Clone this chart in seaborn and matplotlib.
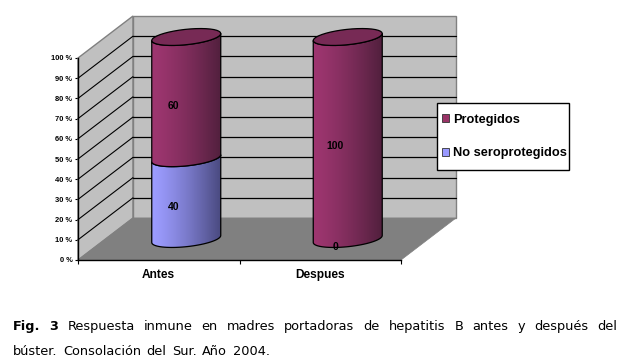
import numpy as np
import pandas as pd
import matplotlib
matplotlib.use("Agg")
import matplotlib.pyplot as plt
from matplotlib.patches import Patch, Polygon, Rectangle
from matplotlib.colors import LinearSegmentedColormap
import seaborn as sns

# data
categories = ["Antes", "Despues"]
no_seroprotegidos = [40, 0]
protegidos = [60, 100]
y_ticks = [0, 10, 20, 30, 40, 50, 60, 70, 80, 90, 100]
y_tick_labels = [f"{v} %" for v in y_ticks]

sns.set_style("white")
plt.rcParams["font.family"] = ["Liberation Sans", "DejaVu Sans"]
plt.rcParams["text.color"] = "black"
plt.rcParams["xtick.labelcolor"] = "black"
plt.rcParams["ytick.labelcolor"] = "black"

W, H = 623, 361
fig = plt.figure(figsize=(W / 100, H / 100), dpi=100, facecolor="white")
# the axes is the front plane of the 3D box, all depth is an offset from it
L, R, T, B = 78, 401, 58, 260
ax = fig.add_axes([L / W, 1 - B / H, (R - L) / W, (B - T) / H])

df = pd.DataFrame({"cat": categories, "low": no_seroprotegidos, "high": protegidos})
df["top"] = df["low"] + df["high"]

PX = 2 / (R - L)      # data units per pixel
PY = 100 / (B - T)
dx, dy = 55 * PX, 42 * PY
x0, x1 = -0.5, 1.5

sns.barplot(df, x="cat", y="top", color="#993366", width=69 * PX, ax=ax)
n_top = len(ax.patches)
sns.barplot(df, x="cat", y="low", color="#9999FF", width=69 * PX, ax=ax)
top_bars = ax.patches[:n_top]
low_bars = ax.patches[n_top:]
for p in ax.patches:
    p.set_visible(False)

ax.set_xlim(x0, x1)
ax.set_ylim(0, 100)

# walls and floor
wall = "#C0C0C0"
edge = "#808080"
ax.add_patch(Polygon([(x0, 0), (x0, 100), (x0 + dx, 100 + dy), (x0 + dx, dy)],
                     fc=wall, ec=edge, lw=1, zorder=1, clip_on=False))
ax.add_patch(Polygon([(x0 + dx, dy), (x0 + dx, 100 + dy), (x1 + dx, 100 + dy), (x1 + dx, dy)],
                     fc=wall, ec=edge, lw=1, zorder=1, clip_on=False))
ax.add_patch(Polygon([(x0, 0), (x1, 0), (x1 + dx, dy), (x0 + dx, dy)],
                     fc="#808080", ec="#808080", lw=0.5, zorder=1.5, clip_on=False))
for v in y_ticks[1:-1]:
    ax.plot([x0, x0 + dx], [v, v + dy], color="black", lw=0.8, zorder=2, clip_on=False)
    ax.plot([x0 + dx, x1 + dx], [v + dy, v + dy], color="black", lw=0.9, zorder=2, clip_on=False)


def arc(cx, cy, a, start, stop):
    # tilted ellipse of the cylinder ends
    t = np.radians(np.linspace(start, stop, 40))
    xs = cx + a * np.cos(t)
    ys = cy + 7.7 * PY * np.sin(t) + 3.5 * PY * np.cos(t)
    return np.column_stack([xs, ys])


def grad_fill(path, xa, xb, c1, c2, z):
    cm = LinearSegmentedColormap.from_list("g", [c1, c2])
    poly = Polygon(path, fc="none", ec="black", lw=0.9, zorder=z + 0.1, clip_on=False)
    ax.add_patch(poly)
    ys = path[:, 1]
    im = ax.imshow(np.linspace(0, 1, 64).reshape(1, -1) ** 1.3, cmap=cm, aspect="auto", zorder=z,
                   extent=(xa, xb, ys.min(), ys.max()))
    # gradient pokes out of the axes box at the top
    im.set_clip_box(fig.bbox)
    im.set_clip_path(poly)


def cylinder(bar, bottom, c1, c2, z):
    xa = bar.get_x() + 0.5 * dx
    a = bar.get_width() / 2
    cx = xa + a
    lo = bottom + 0.5 * dy
    hi = bar.get_height() + 0.5 * dy
    # front half of the lower end, then back along the upper end
    path = np.vstack([arc(cx, lo, a, 180, 360), arc(cx, hi, a, 360, 180)])
    grad_fill(path, xa, xa + 2 * a, c1, c2, z)
    return cx, a, hi


for i in range(len(categories)):
    if no_seroprotegidos[i] > 0:
        cylinder(low_bars[i], 0, "#9C9CFF", "#4A4A80", 3)
    cx, a, hi = cylinder(top_bars[i], no_seroprotegidos[i], "#9E3670", "#52203E", 4)
    ax.add_patch(Polygon(arc(cx, hi, a, 0, 360), fc="#772A55", ec="black", lw=0.9,
                         zorder=5, clip_on=False))
ax.set_xlim(x0, x1)
ax.set_ylim(0, 100)

# value labels
lx, ly = -12.5 * PX + 0.5 * dx, -8 * PY + 0.5 * dy
for i in range(len(categories)):
    ax.text(i + lx, no_seroprotegidos[i] / 2 + ly, str(no_seroprotegidos[i]), ha="center", va="center",
            fontsize=7.5, fontweight="bold", color="black", zorder=6, clip_on=False)
    ax.text(i + lx, no_seroprotegidos[i] + protegidos[i] / 2 + ly, str(protegidos[i]), ha="center", va="center",
            fontsize=7.5, fontweight="bold", color="black", zorder=6, clip_on=False)

# axes
for s in ["top", "right"]:
    ax.spines[s].set_visible(False)
for s in ["left", "bottom"]:
    ax.spines[s].set_color("black")
    ax.spines[s].set_linewidth(1)
    ax.spines[s].set_zorder(7)
ax.set_xlabel("")
ax.set_ylabel("")
ax.set_yticks(y_ticks, y_tick_labels)
ax.tick_params(axis="y", length=2.5, width=0.8, color="black", left=True, pad=1.5, labelsize=5.4,
               labelcolor="black")
for lab in ax.get_yticklabels():
    lab.set_fontweight("bold")
ax.set_xticks([x0, 0.5, x1], ["", "", ""])
ax.set_xticks([0, 1], categories, minor=True)
ax.tick_params(axis="x", which="major", length=3, width=0.8, color="black", bottom=True)
ax.tick_params(axis="x", which="minor", length=0, pad=6.5, labelsize=8.6, labelcolor="black")
for lab in ax.get_xticklabels(minor=True):
    lab.set_fontweight("bold")

# legend, frame drawn apart because its padding differs in x and y
fig.add_artist(Rectangle((437 / W, 1 - 170 / H), 132 / W, 67 / H, transform=fig.transFigure,
                         fc="white", ec="black", lw=1, zorder=9))
handles = [Patch(fc="#993366", ec="#333333", lw=0.6, label="Protegidos"),
           Patch(fc="#9999FF", ec="#333333", lw=0.6, label="No seroprotegidos")]
leg = fig.legend(handles=handles, loc="upper left", bbox_to_anchor=(442 / W, 1 - 113.5 / H),
                 borderaxespad=0, borderpad=0, frameon=False, labelcolor="black",
                 prop={"size": 9.2, "weight": "bold"}, handlelength=0.55, handleheight=0.55,
                 handletextpad=0.32, labelspacing=1.72)
leg.set_zorder(10)


# caption, justified by hand like the original paragraph
def caption_line(words, y, left, right=None):
    r = fig.canvas.get_renderer()
    items = []
    for txt, bold in words:
        t = fig.text(left / W, 1 - y / H, txt, family="DejaVu Sans", fontsize=9.3,
                     fontweight="bold" if bold else "normal", color="black", va="baseline")
        items.append((t, t.get_window_extent(r).width))
    total = sum(w for _, w in items)
    gap = (right - left - total) / (len(items) - 1) if right else 5.5
    pos = left
    for t, w in items:
        t.set_x(pos / W)
        pos += w + gap


caption_line([("Fig.", True), ("3", True), ("Respuesta", False), ("inmune", False), ("en", False),
              ("madres", False), ("portadoras", False), ("de", False), ("hepatitis", False), ("B", False),
              ("antes", False), ("y", False), ("después", False), ("del", False)], 330, 13, 617)
caption_line([(w, False) for w in "búster. Consolación del Sur. Año 2004.".split()], 355, 13)

fig.savefig("out.png", dpi=100, facecolor="white")
